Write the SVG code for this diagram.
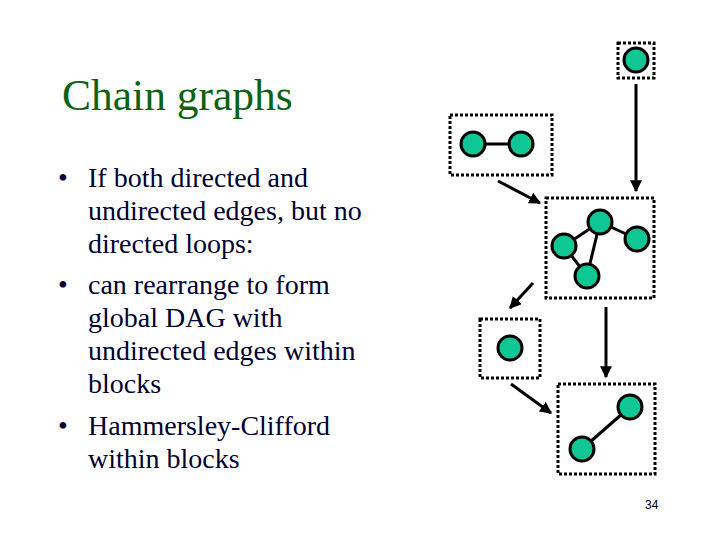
<svg xmlns="http://www.w3.org/2000/svg" width="720" height="540" viewBox="0 0 720 540">
<style>
.box{fill:none;stroke:#000;stroke-width:3;stroke-dasharray:3 2}
.n{fill:#0fc795;stroke:#000;stroke-width:3}
.e{stroke:#000;stroke-width:3}
.a{stroke:#000;stroke-width:3;fill:none;marker-end:url(#ah)}
.t{font-family:"Liberation Serif",serif;font-size:28px;fill:#000033}
.b{font-size:28px}
</style>
<defs>
<marker id="ah" viewBox="0 0 10 10" refX="9" refY="5" markerWidth="4" markerHeight="4" orient="auto" markerUnits="strokeWidth">
<path d="M0,0 L10,5 L0,10 z" fill="#000"/>
</marker>
</defs>
<rect width="720" height="540" fill="#fff"/>
<text x="62" y="110" font-family="Liberation Serif,serif" font-size="43.5" fill="#0b6312">Chain graphs</text>
<g class="t">
<text class="b" x="58" y="187">•</text><text x="88" y="187">If both directed and</text>
<text x="88" y="220">undirected edges, but no</text>
<text x="88" y="253">directed loops:</text>
<text class="b" x="58" y="294">•</text><text x="88" y="294">can rearrange to form</text>
<text x="88" y="327">global DAG with</text>
<text x="88" y="360">undirected edges within</text>
<text x="88" y="393">blocks</text>
<text class="b" x="58" y="435">•</text><text x="88" y="435">Hammersley-Clifford</text>
<text x="88" y="468">within blocks</text>
</g>
<text x="645" y="509" font-family="Liberation Sans,sans-serif" font-size="12" fill="#000">34</text>
<g id="connectors">
<line class="a" x1="636" y1="84" x2="636" y2="191"/>
<line class="a" x1="498" y1="181" x2="540" y2="203"/>
<line class="a" x1="533" y1="283" x2="510" y2="308"/>
<line class="a" x1="606" y1="307" x2="606" y2="377"/>
<line class="a" x1="511" y1="384" x2="551" y2="413"/>
</g>
<g id="block-top">
<rect class="box" x="618" y="43" width="36" height="35"/>
<circle class="n" cx="636" cy="60" r="12"/>
</g>
<g id="block-left">
<rect class="box" x="450" y="115" width="102" height="60"/>
<line class="e" x1="473" y1="144" x2="521" y2="144"/>
<circle class="n" cx="473" cy="144" r="12"/>
<circle class="n" cx="521" cy="144" r="12"/>
</g>
<g id="block-middle">
<rect class="box" x="546" y="198" width="108" height="100"/>
<line class="e" x1="564" y1="246" x2="600" y2="222"/>
<line class="e" x1="600" y1="222" x2="637" y2="239"/>
<line class="e" x1="564" y1="246" x2="587" y2="276"/>
<line class="e" x1="600" y1="222" x2="587" y2="276"/>
<circle class="n" cx="600" cy="222" r="12"/>
<circle class="n" cx="564" cy="246" r="12"/>
<circle class="n" cx="637" cy="239" r="12"/>
<circle class="n" cx="587" cy="276" r="12"/>
</g>
<g id="block-small">
<rect class="box" x="480" y="319" width="60" height="59"/>
<circle class="n" cx="510" cy="348" r="12"/>
</g>
<g id="block-bottom">
<rect class="box" x="558" y="384" width="97" height="90"/>
<line class="e" x1="582" y1="449" x2="630" y2="407"/>
<circle class="n" cx="630" cy="407" r="12"/>
<circle class="n" cx="582" cy="449" r="12"/>
</g>
</svg>
